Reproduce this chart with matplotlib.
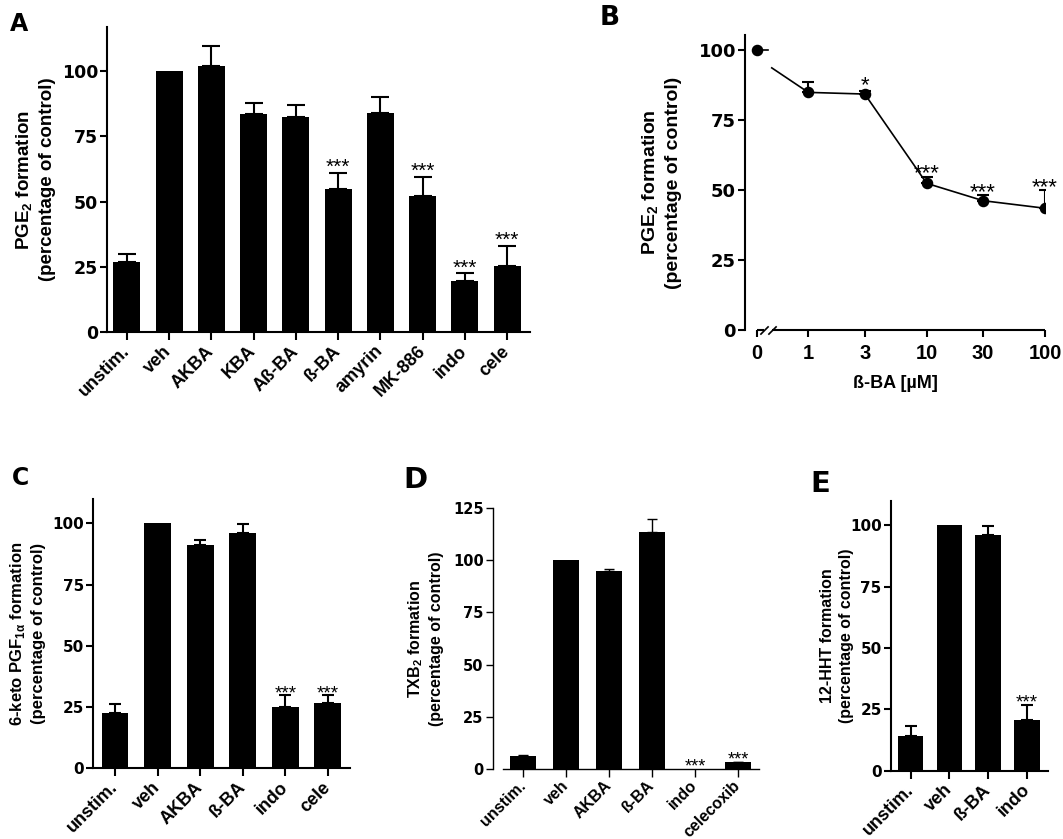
import numpy as np
import matplotlib
matplotlib.use('Agg')
import matplotlib.pyplot as plt
from matplotlib.ticker import NullLocator

plt.rcParams['font.family'] = ['Liberation Sans', 'DejaVu Sans']
plt.rcParams['font.weight'] = 'bold'
plt.rcParams['axes.labelweight'] = 'bold'

# panel A: PGE2 formation
labels_a = ['unstim.', 'veh', 'AKBA', 'KBA', 'Aß-BA', 'ß-BA', 'amyrin', 'MK-886', 'indo', 'cele']
vals_a = [27, 100, 102, 83.5, 82.5, 55, 84, 52, 19.5, 25.5]
err_a = [3, 0, 7.8, 4.5, 4.6, 6, 6, 7.5, 3, 7.5]
stars_a = ['', '', '', '', '', '***', '', '***', '***', '***']

# panel B: concentration response of ß-BA
doses_b = ['0', '1', '3', '10', '30', '100']
conc_b = [0, 1, 3, 10, 30, 100]
vals_b = [100, 84.9, 84.3, 52.4, 46.2, 43.5]
err_b = [0, 3.8, 1.0, 2.4, 2.0, 6.5]
stars_b = ['', '', '*', '***', '***', '***']

# panel C: 6-keto PGF1a
labels_c = ['unstim.', 'veh', 'AKBA', 'ß-BA', 'indo', 'cele']
vals_c = [22.3, 100, 91, 96, 25.1, 26.6]
err_c = [4, 0, 2.3, 3.7, 4.9, 3.2]
stars_c = ['', '', '', '', '***', '***']

# panel D: TXB2
labels_d = ['unstim.', 'veh', 'AKBA', 'ß-BA', 'indo', 'celecoxib']
vals_d = [6.4, 100, 94.9, 113.4, 0.3, 3.3]
err_d = [0.3, 0, 0.6, 6.2, 0, 0.3]
stars_d = ['', '', '', '', '***', '***']

# panel E: 12-HHT
labels_e = ['unstim.', 'veh', 'ß-BA', 'indo']
vals_e = [14.1, 100, 96, 20.8]
err_e = [4.3, 0, 3.7, 6]
stars_e = ['', '', '', '***']

W, H = 1063, 839
fig = plt.figure(figsize=(W / 100, H / 100), dpi=100)


def px_axes(l, t, r, b):
    return fig.add_axes([l / W, 1 - b / H, (r - l) / W, (b - t) / H])


def bar_panel(ax, labels, vals, errs, stars, ylim, yticks, xlim, width,
              lw=1.5, cap=6, ytick_fs=12, xtick_fs=13, xpad=6, ylabel='', ylabel_fs=13,
              ylabel_x=-0.2, star_fs=15, star_off=0):
    x = np.arange(len(labels))
    ax.bar(x, vals, width=width, color='black', linewidth=0)
    e = np.array(errs)
    m = e > 0
    ax.errorbar(x[m], np.array(vals)[m], yerr=[np.zeros(m.sum()), e[m]], fmt='none',
                ecolor='black', elinewidth=lw, capsize=cap, capthick=lw)
    for i, s in enumerate(stars):
        if s:
            ax.annotate(s, xy=(i, vals[i] + errs[i]), xytext=(0, star_off),
                        textcoords='offset points', ha='center', va='baseline',
                        fontsize=star_fs, fontweight='normal')
    ax.set_xlim(*xlim)
    ax.set_ylim(*ylim)
    for s in ['top', 'right']:
        ax.spines[s].set_visible(False)
    for s in ['left', 'bottom']:
        ax.spines[s].set_linewidth(lw)
    ax.set_xticks(x)
    ax.set_xticklabels(labels, rotation=45, ha='right', va='center',
                       rotation_mode='anchor', fontsize=xtick_fs)
    ax.set_yticks(yticks)
    ax.set_yticklabels([str(t) for t in yticks], fontfamily='DejaVu Sans',
                       fontsize=ytick_fs, fontweight='bold')
    ax.tick_params(axis='x', length=6, width=lw, pad=xpad)
    ax.tick_params(axis='y', length=5, width=lw, pad=1.5)
    ax.set_ylabel(ylabel, fontsize=ylabel_fs, fontweight='bold',
                  linespacing=1.3, va='center', ha='center')
    ax.yaxis.set_label_coords(ylabel_x, 0.5)


# ---- A ----
axa = px_axes(107, 27, 530, 332)
bar_panel(axa, labels_a, vals_a, err_a, stars_a, (0, 117), [0, 25, 50, 75, 100],
          (-0.47, 9.54), 0.64, cap=6.5, ytick_fs=12.5,
          ylabel='PGE$_\\mathregular{2}$ formation\n(percentage of control)',
          ylabel_fs=13.5, ylabel_x=-0.17, star_fs=15, star_off=0)

# ---- B ----
ZERO_POS = 0.366
axb = px_axes(745, 35, 1045, 330)
xb = np.array([ZERO_POS if c == 0 else c for c in conc_b], dtype=float)
axb.set_xscale('log')
axb.set_xlim(0.2917, 100)
axb.set_ylim(0, 105.4)
# broken line between 0 and 1
brk1, brk2 = 0.4565, 0.491
frac = 0.42
axb.plot([xb[0], brk1], [vals_b[0], vals_b[0]], color='black', lw=1.2)
axb.plot([brk2] + list(xb[1:]), [vals_b[0] + (vals_b[1] - vals_b[0]) * frac] + vals_b[1:],
         color='black', lw=1.2)
eb = np.array(err_b)
mb = eb > 0
axb.errorbar(xb[mb], np.array(vals_b)[mb], yerr=[np.zeros(mb.sum()), eb[mb]], fmt='none',
             ecolor='black', elinewidth=1.5, capsize=4.3, capthick=1.5)
axb.plot(xb, vals_b, 'o', color='black', markersize=7.3, zorder=3)
for i, s in enumerate(stars_b):
    if s:
        axb.annotate(s, xy=(xb[i], vals_b[i] + err_b[i]), xytext=(0, 0 if s == '*' else -2),
                     textcoords='offset points', ha='center', va='baseline',
                     fontsize=16, fontweight='normal')
for s in ['top', 'right', 'bottom']:
    axb.spines[s].set_visible(False)
axb.spines['left'].set_linewidth(1.5)
# x axis with break marks
ax_a_end, ax_b_start = 0.4225, 0.4935
axb.plot([xb[0], ax_a_end], [0, 0], color='black', lw=1.5, clip_on=False, solid_capstyle='butt')
axb.plot([ax_b_start, xb[-1]], [0, 0], color='black', lw=1.5, clip_on=False, solid_capstyle='butt')
axb.plot([ax_a_end, ax_b_start], [0, 0], ls='none', marker=[(-1, -1), (1, 1)],
         markersize=6, markeredgewidth=1.2, color='black', clip_on=False)
axb.set_xticks(xb)
axb.set_xticklabels(doses_b, fontsize=14.5, fontweight='bold')
axb.xaxis.set_minor_locator(NullLocator())
axb.set_yticks([0, 25, 50, 75, 100])
axb.set_yticklabels(['0', '25', '50', '75', '100'], fontfamily='DejaVu Sans',
                    fontsize=13, fontweight='bold')
axb.tick_params(axis='x', length=5, width=1.5, pad=5)
axb.tick_params(axis='y', length=5, width=1.5, pad=1.5)
axb.set_xlabel('ß-BA [µM]', fontsize=13, fontweight='bold', labelpad=9)
axb.set_ylabel('PGE$_\\mathregular{2}$ formation\n(percentage of control)', fontsize=14,
               fontweight='bold', linespacing=1.3, va='center', ha='center')
axb.yaxis.set_label_coords(-0.28, 0.5)

# ---- C ----
axc = px_axes(93, 499, 350, 768)
bar_panel(axc, labels_c, vals_c, err_c, stars_c, (0, 110), [0, 25, 50, 75, 100],
          (-0.516, 5.52), 0.63, cap=4.3, ytick_fs=11,
          ylabel='6-keto PGF$_\\mathregular{1α}$ formation\n(percentage of control)',
          ylabel_fs=12, ylabel_x=-0.257, star_fs=13.5, star_off=-2.5)

# ---- D ----
axd = px_axes(492.7, 507.7, 759, 769.3)
bar_panel(axd, labels_d, vals_d, err_d, stars_d, (0, 125), [0, 25, 50, 75, 100, 125],
          (-0.70, 5.49), 0.6, lw=1.0, cap=3.6, ytick_fs=10.5, xtick_fs=11.5, xpad=4,
          ylabel='TXB$_\\mathregular{2}$ formation\n(percentage of control)',
          ylabel_fs=11.5, ylabel_x=-0.254, star_fs=13, star_off=-2)
axd.spines['bottom'].set_bounds(-0.465, 5.49)

# ---- E ----
axe = px_axes(890.7, 500.7, 1048, 770.7)
bar_panel(axe, labels_e, vals_e, err_e, stars_e, (0, 110), [0, 25, 50, 75, 100],
          (-0.515, 3.54), 0.66, cap=4.3, ytick_fs=11,
          ylabel='12-HHT formation\n(percentage of control)',
          ylabel_fs=11.5, ylabel_x=-0.343, star_fs=13.5, star_off=-2)

# panel letters
for letter, (px, py, fs) in zip('ABCDE', [(10, 31, 17), (600, 25, 19), (12, 485, 17),
                                        (403, 488, 21), (810, 492, 21)]):
    fig.text(px / W, 1 - py / H, letter, fontfamily='DejaVu Sans', fontweight='bold',
             fontsize=fs, ha='left', va='baseline')

fig.savefig('out.png', dpi=100)
